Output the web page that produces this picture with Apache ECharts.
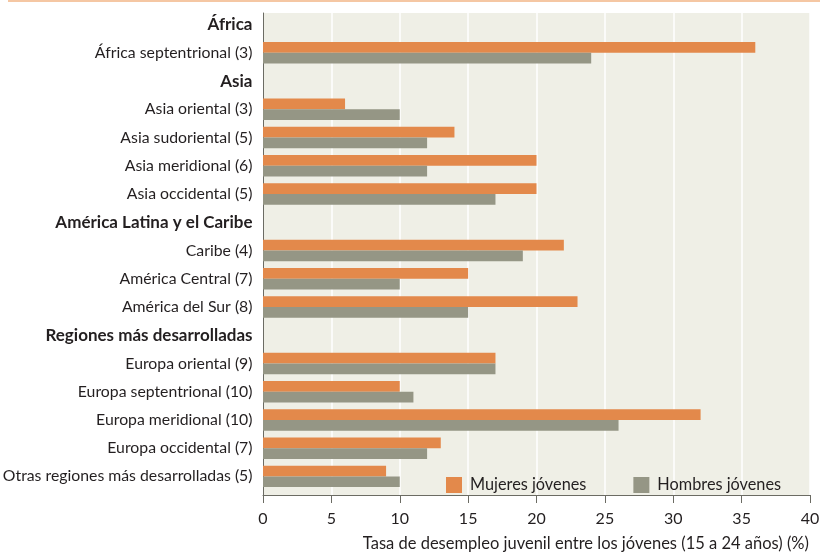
<!DOCTYPE html>
<html><head><meta charset="utf-8">
<script src="https://cdn.jsdelivr.net/npm/echarts@6/dist/echarts.min.js"></script>
<style>html,body{margin:0;padding:0;background:#fff}#c{width:820px;height:554px}</style>
</head><body><div id="c"></div>
<script>
const categories = ['África','África septentrional (3)','Asia','Asia oriental (3)','Asia sudoriental (5)','Asia meridional (6)','Asia occidental (5)','América Latina y el Caribe','Caribe (4)','América Central (7)','América del Sur (8)','Regiones más desarrolladas','Europa oriental (9)','Europa septentrional (10)','Europa meridional (10)','Europa occidental (7)','Otras regiones más desarrolladas (5)'];
const headerCategories = ['África','Asia','América Latina y el Caribe','Regiones más desarrolladas'];
const mujeres = [null,36,null,6,14,20,20,null,22,15,23,null,17,10,32,13,9];
const hombres = [null,24,null,10,12,12,17,null,19,10,15,null,17,11,26,12,10];
const seriesNames = ['Mujeres jóvenes','Hombres jóvenes'];
const xMin = 0, xMax = 40, xStep = 5;
const axisTitle = 'Tasa de desempleo juvenil entre los jóvenes (15 a 24 años) (%)';

const FONT = 'Lato';
const chart = echarts.init(document.getElementById('c'), null, {renderer:'canvas'});
chart.setOption({
  animation:false,
  textStyle:{fontFamily:FONT},
  grid:[
    {left:263, top:13, width:547, height:482, show:true, backgroundColor:'#efefe6', borderWidth:0, outerBoundsMode:'none', containLabel:false},
    {left:263, top:10.5, width:547, height:480, outerBoundsMode:'none', containLabel:false}
  ],
  xAxis:[
    {gridIndex:0, type:'value', min:xMin, max:xMax, interval:xStep,
     axisLine:{show:true, lineStyle:{color:'#6b6b63', width:1}},
     axisTick:{show:true, length:8, lineStyle:{color:'#6b6b63'}},
     axisLabel:{color:'#231f20', fontSize:16, margin:16, fontFamily:FONT},
     splitLine:{show:true, lineStyle:{color:'#ffffff', width:1.5}}},
    {gridIndex:1, type:'value', min:xMin, max:xMax, show:false}
  ],
  yAxis:[
    {gridIndex:0, type:'value', min:0, max:1,
     axisLine:{show:true, lineStyle:{color:'#6b6b63', width:1}},
     axisTick:{show:false}, axisLabel:{show:false}, splitLine:{show:false}},
    {gridIndex:1, type:'category', data:categories, inverse:true,
     axisLine:{show:false}, axisTick:{show:false},
     axisLabel:{margin:10.5, color:'#231f20', fontSize:15.8, fontFamily:FONT,
       formatter:function(v){ return headerCategories.indexOf(v)>=0 ? '{h|'+v+'}' : v; },
       rich:{h:{fontWeight:'bold', fontSize:17, color:'#231f20', fontFamily:FONT}}}}
  ],
  legend:{
    left:441, top:472, itemWidth:16, itemHeight:16, itemGap:47, icon:'rect',
    textStyle:{color:'#231f20', fontSize:16.3, fontFamily:FONT, padding:[0,0,0,3]},
    data:seriesNames
  },
  series:[
    {name:seriesNames[0], type:'bar', xAxisIndex:1, yAxisIndex:1, data:mujeres,
     itemStyle:{color:'#e3894b'}, barGap:'0%', barCategoryGap:'24%'},
    {name:seriesNames[1], type:'bar', xAxisIndex:1, yAxisIndex:1, data:hombres,
     itemStyle:{color:'#959685'}, barGap:'0%', barCategoryGap:'24%'}
  ],
  graphic:[
    {type:'rect', left:8, top:0, shape:{width:812, height:2}, style:{fill:'#f5c7a3'}},
    {type:'text', right:11, top:535, style:{text:axisTitle, fill:'#231f20', font:'16.5px '+FONT}}
  ]
});
</script></body></html>
